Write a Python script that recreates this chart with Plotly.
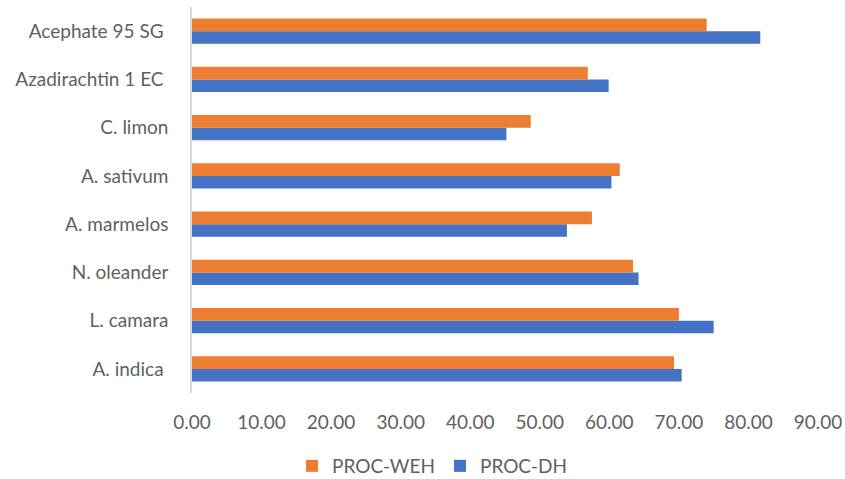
import plotly.graph_objects as go

# categories listed bottom-to-top
categories = ["A. indica\u00a0", "L. camara", "N. oleander", "A. marmelos",
              "A. sativum", "C. limon", "Azadirachtin 1 EC\u00a0", "Acephate 95 SG\u00a0"]
proc_weh = [69.3, 70.0, 63.4, 57.5, 61.5, 48.7, 56.9, 74.0]
proc_dh = [70.4, 75.0, 64.2, 53.9, 60.3, 45.2, 59.9, 81.7]
x_ticks = [0, 10, 20, 30, 40, 50, 60, 70, 80, 90]
x_labels = [f"{v:.2f}" for v in x_ticks]

FONT = "Lato, 'Open Sans', sans-serif"
GRAY = "#5f5f5f"

fig = go.Figure()
fig.add_trace(go.Bar(y=categories, x=proc_dh, orientation="h", name="PROC-DH",
                     marker=dict(color="#4472C4", line=dict(width=0))))
fig.add_trace(go.Bar(y=categories, x=proc_weh, orientation="h", name="PROC-WEH",
                     marker=dict(color="#ED7D31", line=dict(width=0))))

fig.update_layout(
    width=845, height=479,
    margin=dict(l=192, r=27, t=7, b=86, autoexpand=False),
    barmode="group", bargap=0.48, bargroupgap=0,
    plot_bgcolor="white", paper_bgcolor="white",
    font=dict(family=FONT, size=19, color=GRAY),
    showlegend=True,
    legend=dict(orientation="h", x=0.5 + 10 / 845, xanchor="center", xref="container",
                y=(479 - 466) / 479, yref="container", yanchor="middle",
                traceorder="reversed", font=dict(size=19, color=GRAY),
                itemwidth=30),
    xaxis=dict(range=[0, 90], tickvals=x_ticks, ticktext=x_labels,
               showgrid=False, zeroline=False, showline=False,
               ticks="", ticklabelstandoff=16, fixedrange=True),
    yaxis=dict(type="category", categoryorder="array", categoryarray=categories,
               showgrid=False, zeroline=False, showline=True,
               linecolor="#d9d9d9", linewidth=1.5,
               ticks="", ticklabelstandoff=18),
)

fig.write_html("out.html")
